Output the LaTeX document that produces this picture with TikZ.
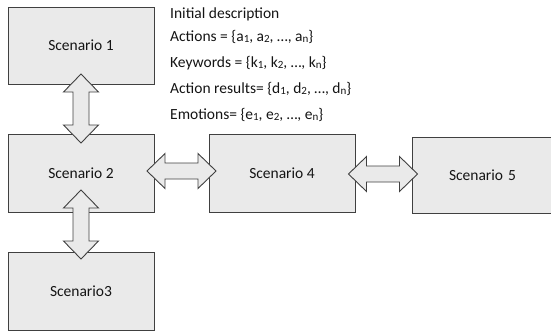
\documentclass[tikz,border=0pt]{standalone}
\usepackage{fontspec}
\setmainfont{Carlito}
\definecolor{boxfill}{RGB}{234,234,234}
\definecolor{boxline}{RGB}{64,64,64}
\definecolor{txt}{RGB}{20,20,20}
\newcommand{\sbs}[1]{\raisebox{-0.8pt}{\fontsize{11}{11}\selectfont #1}}
\tikzset{
  scen/.style={draw=boxline, fill=boxfill, line width=1pt, minimum width=146pt,
    inner sep=0pt, font=\fontsize{15.5}{18}\selectfont, text=txt},
  desc/.style={anchor=west, inner sep=0pt, font=\fontsize{15.5}{18}\selectfont, text=txt},
  dblarrow/.pic={
    \draw[draw=boxline, fill=boxfill, line width=0.9pt, line join=miter]
      (-34.5,0) -- (-16.5,17.5) -- (-16.5,8) -- (16.5,8) -- (16.5,17.5) -- (34.5,0)
      -- (16.5,-17.5) -- (16.5,-8) -- (-16.5,-8) -- (-16.5,-17.5) -- cycle;
  }
}
\begin{document}
\begin{tikzpicture}[x=1pt,y=-1pt]
\useasboundingbox (0,0) rectangle (551,332);
\clip (0,0) rectangle (551,332);
\node[scen, minimum height=77pt] (s1) at (81,45.5) {Scenario 1};
\node[scen, minimum height=78pt] (s2) at (81,173) {Scenario 2};
\node[scen, minimum height=78pt] (s3) at (81,291) {Scenario3};
\node[scen, minimum height=78pt] (s4) at (282,173) {Scenario 4};
\node[scen, minimum height=76pt, text width=146pt, align=left] (s5) at (485,175) {\hspace*{37pt}Scenario 5};
\pic[rotate=90] (a12) at (81,108.5) {dblarrow};
\pic[rotate=90] (a23) at (81,224.5) {dblarrow};
\pic (a24) at (181.5,171) {dblarrow};
\pic (a45) at (383,174) {dblarrow};
\node[desc] (d0) at (170,14) {Initial description};
\node[desc] (d1) at (170,37) {Actions = \{a\sbs{1}, a\sbs{2}, …, a\sbs{n}\}};
\node[desc] (d2) at (170,63) {Keywords = \{k\sbs{1}, k\sbs{2}, …, k\sbs{n}\}};
\node[desc] (d3) at (170,89) {Action results= \{d\sbs{1}, d\sbs{2}, …, d\sbs{n}\}};
\node[desc] (d4) at (170,115) {Emotions= \{e\sbs{1}, e\sbs{2}, …, e\sbs{n}\}};
\end{tikzpicture}
\end{document}
